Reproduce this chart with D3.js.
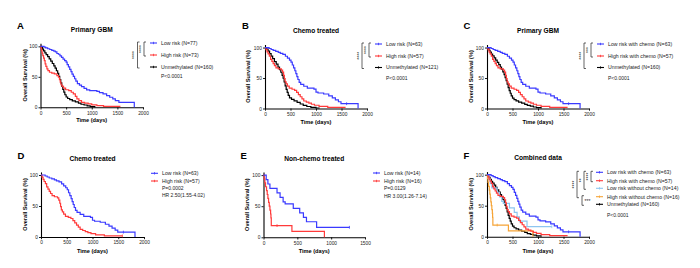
<!DOCTYPE html>
<html>
<head>
<meta charset="utf-8">
<script src="https://cdn.jsdelivr.net/npm/d3@7"></script>
<style>
  body { margin: 0; background: #fff; }
  svg { display: block; font-family: "Liberation Sans", Arial, sans-serif; }
</style>
</head>
<body>
<svg id="chart" width="700" height="268"></svg>
<script>
// survival curves: [time (days), survival (%)], value holds from that time on
const lowRiskAll = [[0,100],[70,98.7],[100,97.4],[140,96.1],[180,94.8],[220,93.5],[260,92.2],[290,90.9],[320,88.3],[350,87],[380,84.4],[410,81.8],[440,79.2],[470,76.6],[500,74],[520,70.1],[545,66.2],[570,62.3],[595,58.4],[615,54.5],[640,50.6],[665,46.8],[690,42.9],[720,39],[760,36.4],[800,33.8],[850,31.2],[900,28.6],[960,27.3],[1100,26],[1150,24],[1220,21.9],[1290,19.2],[1350,16.5],[1410,13.8],[1460,11],[1530,8.2],[1830,0]];
const highRiskAll = [[0,100],[10,97.3],[20,93.2],[30,89],[45,84.9],[60,80.8],[75,76.7],[90,71.2],[105,67.1],[125,63],[145,60.3],[175,57.5],[220,56.2],[270,54.8],[320,52.1],[350,49.3],[370,45.2],[385,41.1],[400,37],[420,34.2],[450,31.5],[490,28.8],[550,27.4],[600,24.7],[640,21.9],[680,17.8],[710,13.7],[750,11],[800,8.2],[860,6.8],[930,5.5],[1000,4.1],[1100,2.7],[1230,1.4],[1560,1.4]];
const unmeth160 = [[0,100],[20,98.1],[40,95.6],[60,92.5],[85,89.4],[110,86.3],[140,83.1],[170,79.4],[200,75.6],[230,71.9],[260,68.1],[285,64.4],[310,60],[335,55.6],[355,50.6],[375,45.6],[395,40],[415,34.4],[435,29.4],[455,25],[475,20.6],[500,16.9],[530,14.4],[570,12.5],[620,10.6],[680,8.8],[740,6.9],[790,5],[850,3.8],[910,2.5],[970,1.3],[1060,0]];
const unmeth121 = [[0,100],[30,97.5],[60,94.2],[90,90.1],[120,86],[150,81.8],[185,76.9],[220,72.7],[255,67.8],[285,63.6],[310,59.5],[335,54.5],[355,49.6],[375,43.8],[395,37.2],[415,31.4],[435,26.4],[455,21.5],[480,17.4],[520,14.9],[570,12.4],[630,9.9],[690,7.4],[750,5],[820,3.3],[900,1.7],[1000,0.8],[1060,0]];
const lowChemo = [[0,100],[80,98.4],[120,96.8],[160,95.2],[210,93.7],[260,92.1],[300,90.5],[350,88.9],[400,85.7],[440,82.5],[480,79.4],[510,76.2],[535,71.4],[560,66.7],[585,61.9],[605,57.1],[625,52.4],[645,47.6],[670,42.9],[700,39.7],[760,36.5],[830,33.3],[960,31.7],[1000,27],[1040,25.4],[1150,23.8],[1250,20.6],[1320,17.5],[1380,14.3],[1440,11.1],[1490,7.9],[1825,0]];
const highChemo = [[0,100],[20,96.5],[40,93],[60,89.5],[85,86],[110,80.7],[135,77.2],[160,73.7],[185,70.2],[215,66.7],[260,64.9],[320,63.2],[345,59.6],[365,54.4],[380,49.1],[395,43.9],[415,40.4],[440,36.8],[475,33.3],[530,31.6],[580,29.8],[620,26.3],[655,22.8],[690,19.3],[725,15.8],[760,12.3],[810,10.5],[860,8.8],[910,7],[970,5.3],[1060,3.5],[1230,1.8],[1580,1.8]];
const lowNoChemo = [[0,100],[40,92.9],[65,85.7],[95,78.6],[200,71.4],[245,64.3],[290,57.1],[320,53.6],[440,46.4],[535,39.3],[590,32.1],[635,25],[785,16.1],[1270,16.1]];
const highNoChemo = [[0,100],[10,93.8],[20,87.5],[30,81.3],[45,75],[55,68.8],[65,62.5],[75,56.3],[85,50],[95,43.8],[105,37.5],[110,31.3],[115,18.8],[420,9.4],[900,0]];

// censored observations (days)
const lowChemoCensor = [1600];
const highChemoCensor = [1580];
const lowNoChemoCensor = [1270];
const highNoChemoCensor = [200];

// texts
const titles = ["Primary GBM", "Chemo treated", "Primary GBM", "Chemo treated", "Non-chemo treated", "Combined data"];
const labelsA = ["Low risk (N=77)", "High risk (N=73)", "Unmethylated (N=160)"];
const labelsB = ["Low risk (N=63)", "High risk (N=57)", "Unmethylated (N=121)"];
const labelsC = ["Low risk with chemo (N=63)", "High risk with chemo (N=57)", "Unmethylated (N=160)"];
const labelsD = ["Low risk (N=63)", "High risk (N=57)"];
const labelsE = ["Low risk (N=14)", "High risk (N=16)"];
const labelsF = ["Low risk with chemo (N=63)", "High risk with chemo (N=57)", "Low risk without chemo (N=14)", "High risk without chemo (N=16)", "Unmethylated (N=160)"];
const statsA = ["P<0.0001"];
const statsD = ["P=0.0002", "HR 2.50(1.55-4.02)"];
const statsE = ["P=0.0129", "HR 3.00(1.26-7.14)"];
const ticks2000 = [0, 500, 1000, 1500, 2000];
const ticks1500 = [0, 500, 1000, 1500];
const yTicks = [0, 50, 100];

const BLUE = "#3a3aff", RED = "#ff3a3a", BLACK = "#000", LIGHT = "#8ec6f0", ORANGE = "#f6a436";

const panels = [
  { letter: "A", title: titles[0], lx: 17, ly: 28.5, left: 40.5, right: 143, top: 43.3, bottom: 107.3, ylx: 25, tty: 32, xly: 122,
    xMax: 2000, xTicks: ticks2000,
    series: [{ d: lowRiskAll, c: BLUE }, { d: highRiskAll, c: RED }, { d: unmeth160, c: BLACK }],
    labels: labelsA, stats: statsA, legX: 150, rows: [43, 55, 67], statRows: [76.5],
    brackets: [{ a: 0, b: 2, x: 137.5, s: "****" }, { a: 0, b: 1, x: 144, s: "****" }] },
  { letter: "B", title: titles[1], lx: 242, ly: 28.5, left: 265, right: 367, top: 44.5, bottom: 108.5, ylx: 248, tty: 32.5, xly: 123.5,
    xMax: 2000, xTicks: ticks2000,
    series: [{ d: lowChemo, c: BLUE, cen: lowChemoCensor }, { d: highChemo, c: RED }, { d: unmeth121, c: BLACK }],
    labels: labelsB, stats: statsA, legX: 375, rows: [44, 56, 67.5], statRows: [78],
    brackets: [{ a: 0, b: 2, x: 362, s: "****" }, { a: 0, b: 1, x: 369, s: "****" }] },
  { letter: "C", title: titles[2], lx: 463.5, ly: 28.5, left: 487, right: 589, top: 44.5, bottom: 108.5, ylx: 470.7, tty: 33, xly: 123.5,
    xMax: 2000, xTicks: ticks2000,
    series: [{ d: lowChemo, c: BLUE, cen: lowChemoCensor }, { d: highChemo, c: RED }, { d: unmeth160, c: BLACK }],
    labels: labelsC, stats: statsA, legX: 597, rows: [44, 56, 67.5], statRows: [78],
    brackets: [{ a: 0, b: 2, x: 584, s: "****" }, { a: 0, b: 1, x: 591, s: "***" }] },
  { letter: "D", title: titles[3], lx: 17.5, ly: 159, left: 41, right: 144, top: 171.9, bottom: 237, ylx: 25, tty: 161.3, xly: 252.7,
    xMax: 2000, xTicks: ticks2000,
    series: [{ d: lowChemo, c: BLUE, cen: lowChemoCensor }, { d: highChemo, c: RED, cen: highChemoCensor }],
    labels: labelsD, stats: statsD, legX: 151, rows: [173.3, 181], statRows: [188.7, 195.7], brackets: [] },
  { letter: "E", title: titles[4], lx: 240.5, ly: 159, left: 263.5, right: 365, top: 172, bottom: 237.3, ylx: 246.7, tty: 160.6, xly: 253,
    xMax: 1500, xTicks: ticks1500,
    series: [{ d: lowNoChemo, c: BLUE, cen: lowNoChemoCensor }, { d: highNoChemo, c: RED, cen: highNoChemoCensor }],
    labels: labelsE, stats: statsE, legX: 373, rows: [173, 181], statRows: [188.7, 196], brackets: [] },
  { letter: "F", title: titles[5], lx: 463.5, ly: 158.5, left: 487, right: 589, top: 171.6, bottom: 236.7, ylx: 470.7, tty: 160.3, xly: 253,
    xMax: 2000, xTicks: ticks2000,
    series: [{ d: lowChemo, c: BLUE, cen: lowChemoCensor }, { d: highChemo, c: RED }, { d: lowNoChemo, c: LIGHT, cen: lowNoChemoCensor },
             { d: highNoChemo, c: ORANGE, cen: highNoChemoCensor }, { d: unmeth160, c: BLACK }],
    labels: labelsF, stats: statsA, legX: 596, rows: [172.3, 180.7, 188.3, 196.7, 204.3], statRows: [215.7],
    brackets: [{ a: 0, b: 3, x: 577, s: "****" }, { a: 0, b: 2, x: 584, s: "**" }, { a: 0, b: 1, x: 591, s: "****" },
               { a: 3, b: 4, x: 582, s: "***", flat: true }] }
];

const svg = d3.select("#chart");

// survival value at time t for a step curve
function survAt(d, t) {
  let s = d[0][1];
  d.forEach(p => { if (p[0] <= t) s = p[1]; });
  return s;
}

function drawPanel(p) {
  const g = svg.append("g");
  const x = d3.scaleLinear().domain([0, p.xMax]).range([p.left, p.right]);
  const y = d3.scaleLinear().domain([0, 105]).range([p.bottom, p.top]);

  // panel letter and title
  g.append("text").attr("x", p.lx).attr("y", p.ly)
    .attr("font-size", 9.5).attr("font-weight", "bold").text(p.letter);
  g.append("text").attr("x", (p.left + p.right) / 2).attr("y", p.tty)
    .attr("text-anchor", "middle").attr("font-size", 6.6).attr("font-weight", "bold").text(p.title);

  // axes
  const xAxis = g.append("g").attr("transform", `translate(0,${p.bottom})`)
    .call(d3.axisBottom(x).tickValues(p.xTicks).tickFormat(d3.format("d"))
      .tickSize(2.2).tickSizeOuter(0).tickPadding(1.8));
  const yAxis = g.append("g").attr("transform", `translate(${p.left},0)`)
    .call(d3.axisLeft(y).tickValues(yTicks).tickFormat(d3.format("d"))
      .tickSize(2).tickSizeOuter(0).tickPadding(1.2));
  [xAxis, yAxis].forEach(a => {
    a.select(".domain").attr("stroke", "#000").attr("stroke-width", 1.1);
    a.selectAll(".tick line").attr("stroke", "#000").attr("stroke-width", 0.9);
    a.selectAll(".tick text").attr("font-size", 4.8).attr("fill", "#222")
      .attr("font-family", "'Liberation Sans', Arial, sans-serif");
  });

  g.append("text")
    .attr("transform", `translate(${p.ylx},${(p.top + p.bottom) / 2}) rotate(-90)`)
    .attr("text-anchor", "middle").attr("dy", "0.35em")
    .attr("font-size", 5.6).attr("font-weight", "bold").text("Overall Survival (%)");
  g.append("text").attr("x", (p.left + p.right) / 2).attr("y", p.xly)
    .attr("text-anchor", "middle").attr("font-size", 5.6).attr("font-weight", "bold").text("Time (days)");

  // curves, first listed on top
  const line = d3.line().x(d => x(d[0])).y(d => y(d[1])).curve(d3.curveStepAfter);
  p.series.slice().reverse().forEach(s => {
    g.append("path").datum(s.d).attr("d", line)
      .attr("fill", "none").attr("stroke", s.c).attr("stroke-width", 1.2);
    (s.cen || []).forEach(t => {
      g.append("line")
        .attr("x1", x(t)).attr("x2", x(t))
        .attr("y1", y(survAt(s.d, t)) - 1.4).attr("y2", y(survAt(s.d, t)) + 1.4)
        .attr("stroke", s.c).attr("stroke-width", 0.8);
    });
  });

  // legend
  p.labels.forEach((lab, i) => {
    const yy = p.rows[i];
    const c = p.series[i].c;
    g.append("line").attr("x1", p.legX).attr("x2", p.legX + 7).attr("y1", yy).attr("y2", yy)
      .attr("stroke", c).attr("stroke-width", 1.1);
    g.append("line").attr("x1", p.legX + 3.5).attr("x2", p.legX + 3.5).attr("y1", yy - 1.2).attr("y2", yy + 1.2)
      .attr("stroke", c).attr("stroke-width", 0.8);
    g.append("text").attr("x", p.legX + 11).attr("y", yy).attr("dy", "0.35em")
      .attr("font-size", 5.2).attr("fill", "#222").text(lab);
  });
  p.stats.forEach((st, i) => {
    g.append("text").attr("x", p.legX + 11).attr("y", p.statRows[i]).attr("dy", "0.35em")
      .attr("font-size", 5).attr("fill", "#222").text(st);
  });

  // significance brackets
  p.brackets.forEach(b => {
    const y1 = p.rows[b.a] - 1, y2 = p.rows[b.b] + 1;
    g.append("path")
      .attr("d", `M${b.x + 2},${y1}H${b.x}V${y2}H${b.x + 2}`)
      .attr("fill", "none").attr("stroke", "#222").attr("stroke-width", 0.7);
    if (b.flat) {
      g.append("text").attr("x", b.x + 2.5).attr("y", (y1 + y2) / 2 + 2.2)
        .attr("font-size", 5).attr("fill", "#222").text(b.s);
    } else {
      g.append("text")
        .attr("transform", `translate(${b.x - 1.2},${(y1 + y2) / 2}) rotate(-90)`)
        .attr("text-anchor", "middle").attr("font-size", 5).attr("fill", "#222").text(b.s);
    }
  });
}

panels.forEach(drawPanel);
</script>
</body>
</html>
